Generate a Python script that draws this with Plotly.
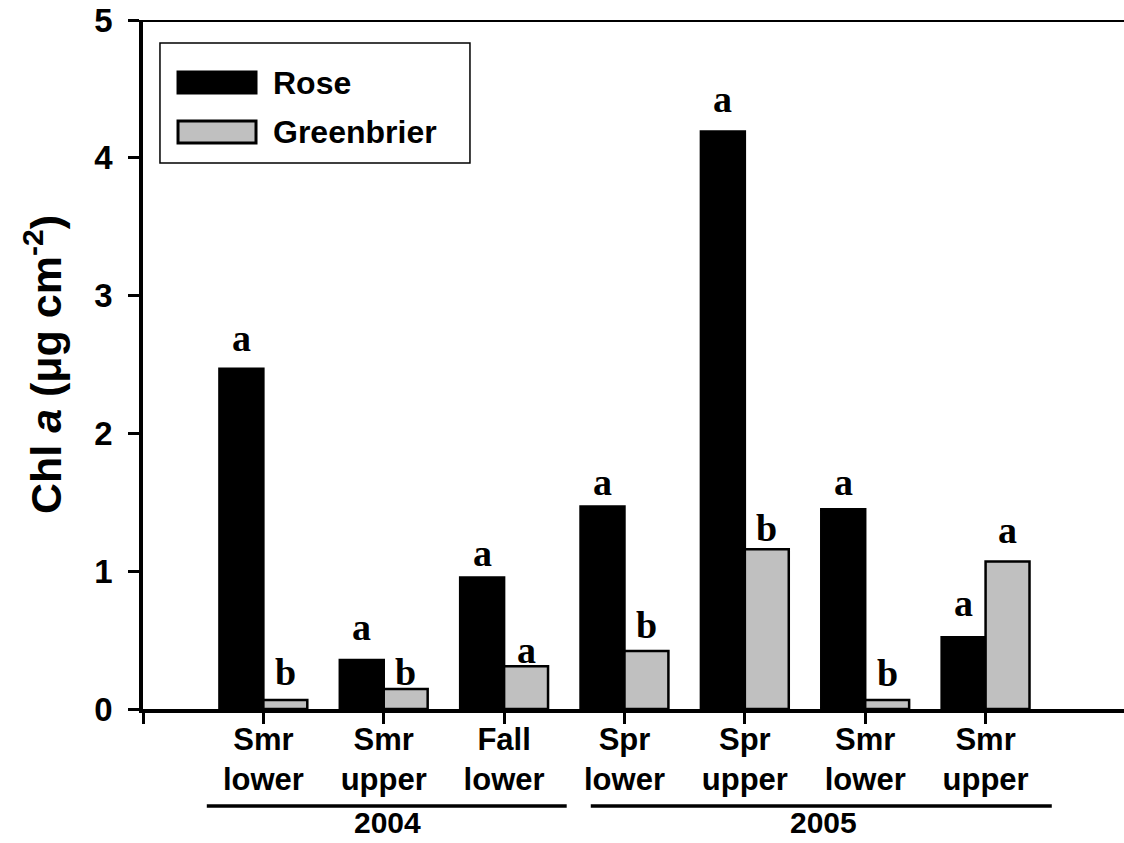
import plotly.graph_objects as go

# ---- data -------------------------------------------------------------
categories = ["Smr<br>lower", "Smr<br>upper", "Fall<br>lower",
              "Spr<br>lower", "Spr<br>upper", "Smr<br>lower", "Smr<br>upper"]
series_names = ["Rose", "Greenbrier"]
rose = [2.47, 0.355, 0.955, 1.47, 4.19, 1.45, 0.52]
greenbrier = [0.065, 0.145, 0.31, 0.42, 1.16, 0.065, 1.07]
rose_letters = ["a", "a", "a", "a", "a", "a", "a"]
greenbrier_letters = ["b", "b", "a", "b", "b", "b", "a"]
year_labels = ["2004", "2005"]
year_first = [1, 4]   # first category position of each year
year_last = [3, 7]    # last category position of each year
y_ticks = [0, 1, 2, 3, 4, 5]

# ---- styling ----------------------------------------------------------
SANS = "Liberation Sans, Arial, sans-serif"
SERIF = "Liberation Serif, Times New Roman, serif"
BLACK = "#000000"
GREY = "#c0c0c0"
BARGAP = 0.27
bar_w = (1 - BARGAP) / 2
# vertical pixel offsets of significance letters above bar tops
rose_shift = [31, 33, 24, 24, 33, 27, 34]
grey_shift = [28, 17, 16, 26, 21, 27, 32]
# bracket extents under each year (category units)
bracket_pad = [(-0.47, 0.52), (-0.28, 0.55)]
year_text_dx = [0.03, 0.15]

xpos = list(range(1, len(categories) + 1))

fig = go.Figure()
fig.add_trace(go.Bar(
    x=xpos, y=rose, name=series_names[0],
    marker=dict(color=BLACK, line=dict(color=BLACK, width=2.5)),
    showlegend=False,
))
fig.add_trace(go.Bar(
    x=xpos, y=greenbrier, name=series_names[1],
    marker=dict(color=GREY, line=dict(color=BLACK, width=2.5)),
    showlegend=False,
))

# significance letters
letter_font = dict(family=SERIF, size=38, color=BLACK, weight=700)
annotations = []
for i, x in enumerate(xpos):
    annotations.append(dict(
        x=x - bar_w / 2, y=rose[i], xref="x", yref="y", text=rose_letters[i],
        showarrow=False, yanchor="middle", yshift=rose_shift[i], font=letter_font))
    annotations.append(dict(
        x=x + bar_w / 2, y=greenbrier[i], xref="x", yref="y",
        text=greenbrier_letters[i],
        showarrow=False, yanchor="middle", yshift=grey_shift[i], font=letter_font))

shapes = []
# top frame line
shapes.append(dict(type="line", xref="paper", yref="y", x0=0, x1=1, y0=5, y1=5,
                   line=dict(color=BLACK, width=4)))

# year brackets and labels
for k, yr in enumerate(year_labels):
    x0 = year_first[k] + bracket_pad[k][0]
    x1 = year_last[k] + bracket_pad[k][1]
    shapes.append(dict(type="line", xref="x", yref="paper", x0=x0, x1=x1,
                       y0=-0.1408, y1=-0.1408, line=dict(color=BLACK, width=3.5)))
    annotations.append(dict(
        x=(year_first[k] + year_last[k]) / 2 + year_text_dx[k], y=-0.165,
        xref="x", yref="paper", text=yr, showarrow=False, yanchor="middle",
        borderpad=0,
        font=dict(family=SANS, size=30, color=BLACK, weight=700)))

# legend box
shapes.append(dict(type="rect", xref="paper", yref="paper",
                   x0=0.0173, x1=0.3333, y0=0.7925, y1=0.9666,
                   line=dict(color=BLACK, width=1.5), fillcolor="white", layer="above"))
legend_rows = [(BLACK, 0.9245, 0.8940), (GREY, 0.8534, 0.8215)]
for name, (col, ya, yb) in zip(series_names, legend_rows):
    shapes.append(dict(type="rect", xref="paper", yref="paper",
                       x0=0.0357, x1=0.1152, y0=yb, y1=ya,
                       line=dict(color=BLACK, width=3), fillcolor=col, layer="above"))
    annotations.append(dict(
        x=0.1305, y=(ya + yb) / 2, xref="paper", yref="paper", text=name,
        showarrow=False, xanchor="left", yanchor="middle",
        font=dict(family=SANS, size=32, color=BLACK, weight=700)))

fig.update_layout(
    width=1124, height=843,
    margin=dict(l=143, r=0, t=20, b=134),
    paper_bgcolor="white", plot_bgcolor="white",
    barmode="group", bargap=BARGAP, bargroupgap=0,
    shapes=shapes, annotations=annotations,
    showlegend=False,
)
fig.update_xaxes(
    range=[0, 8.15], tickmode="array",
    tickvals=xpos, ticktext=categories,
    showline=True, linecolor=BLACK, linewidth=3.5,
    ticks="outside", ticklen=11, tickwidth=3, tickcolor=BLACK,
    minor=dict(tickmode="array", tickvals=[0], ticks="outside",
               ticklen=11, tickwidth=3, tickcolor=BLACK, showgrid=False),
    showgrid=False, zeroline=False, ticklabelstandoff=-11,
    tickfont=dict(family=SANS, size=31, color=BLACK, weight=700),
)
fig.update_yaxes(
    range=[0, 5], tickmode="array", tickvals=y_ticks,
    showline=True, linecolor=BLACK, linewidth=3.5,
    ticks="outside", ticklen=11, tickwidth=3, tickcolor=BLACK,
    showgrid=False, zeroline=False, ticklabelstandoff=9,
    tickfont=dict(family=SANS, size=33, color=BLACK, weight=700),
    title=dict(text="Chl <i>a</i> (μg cm<sup>-2</sup>)", standoff=20,
               font=dict(family=SANS, size=43, color=BLACK, weight=700)),
)

fig.write_html("out.html")
